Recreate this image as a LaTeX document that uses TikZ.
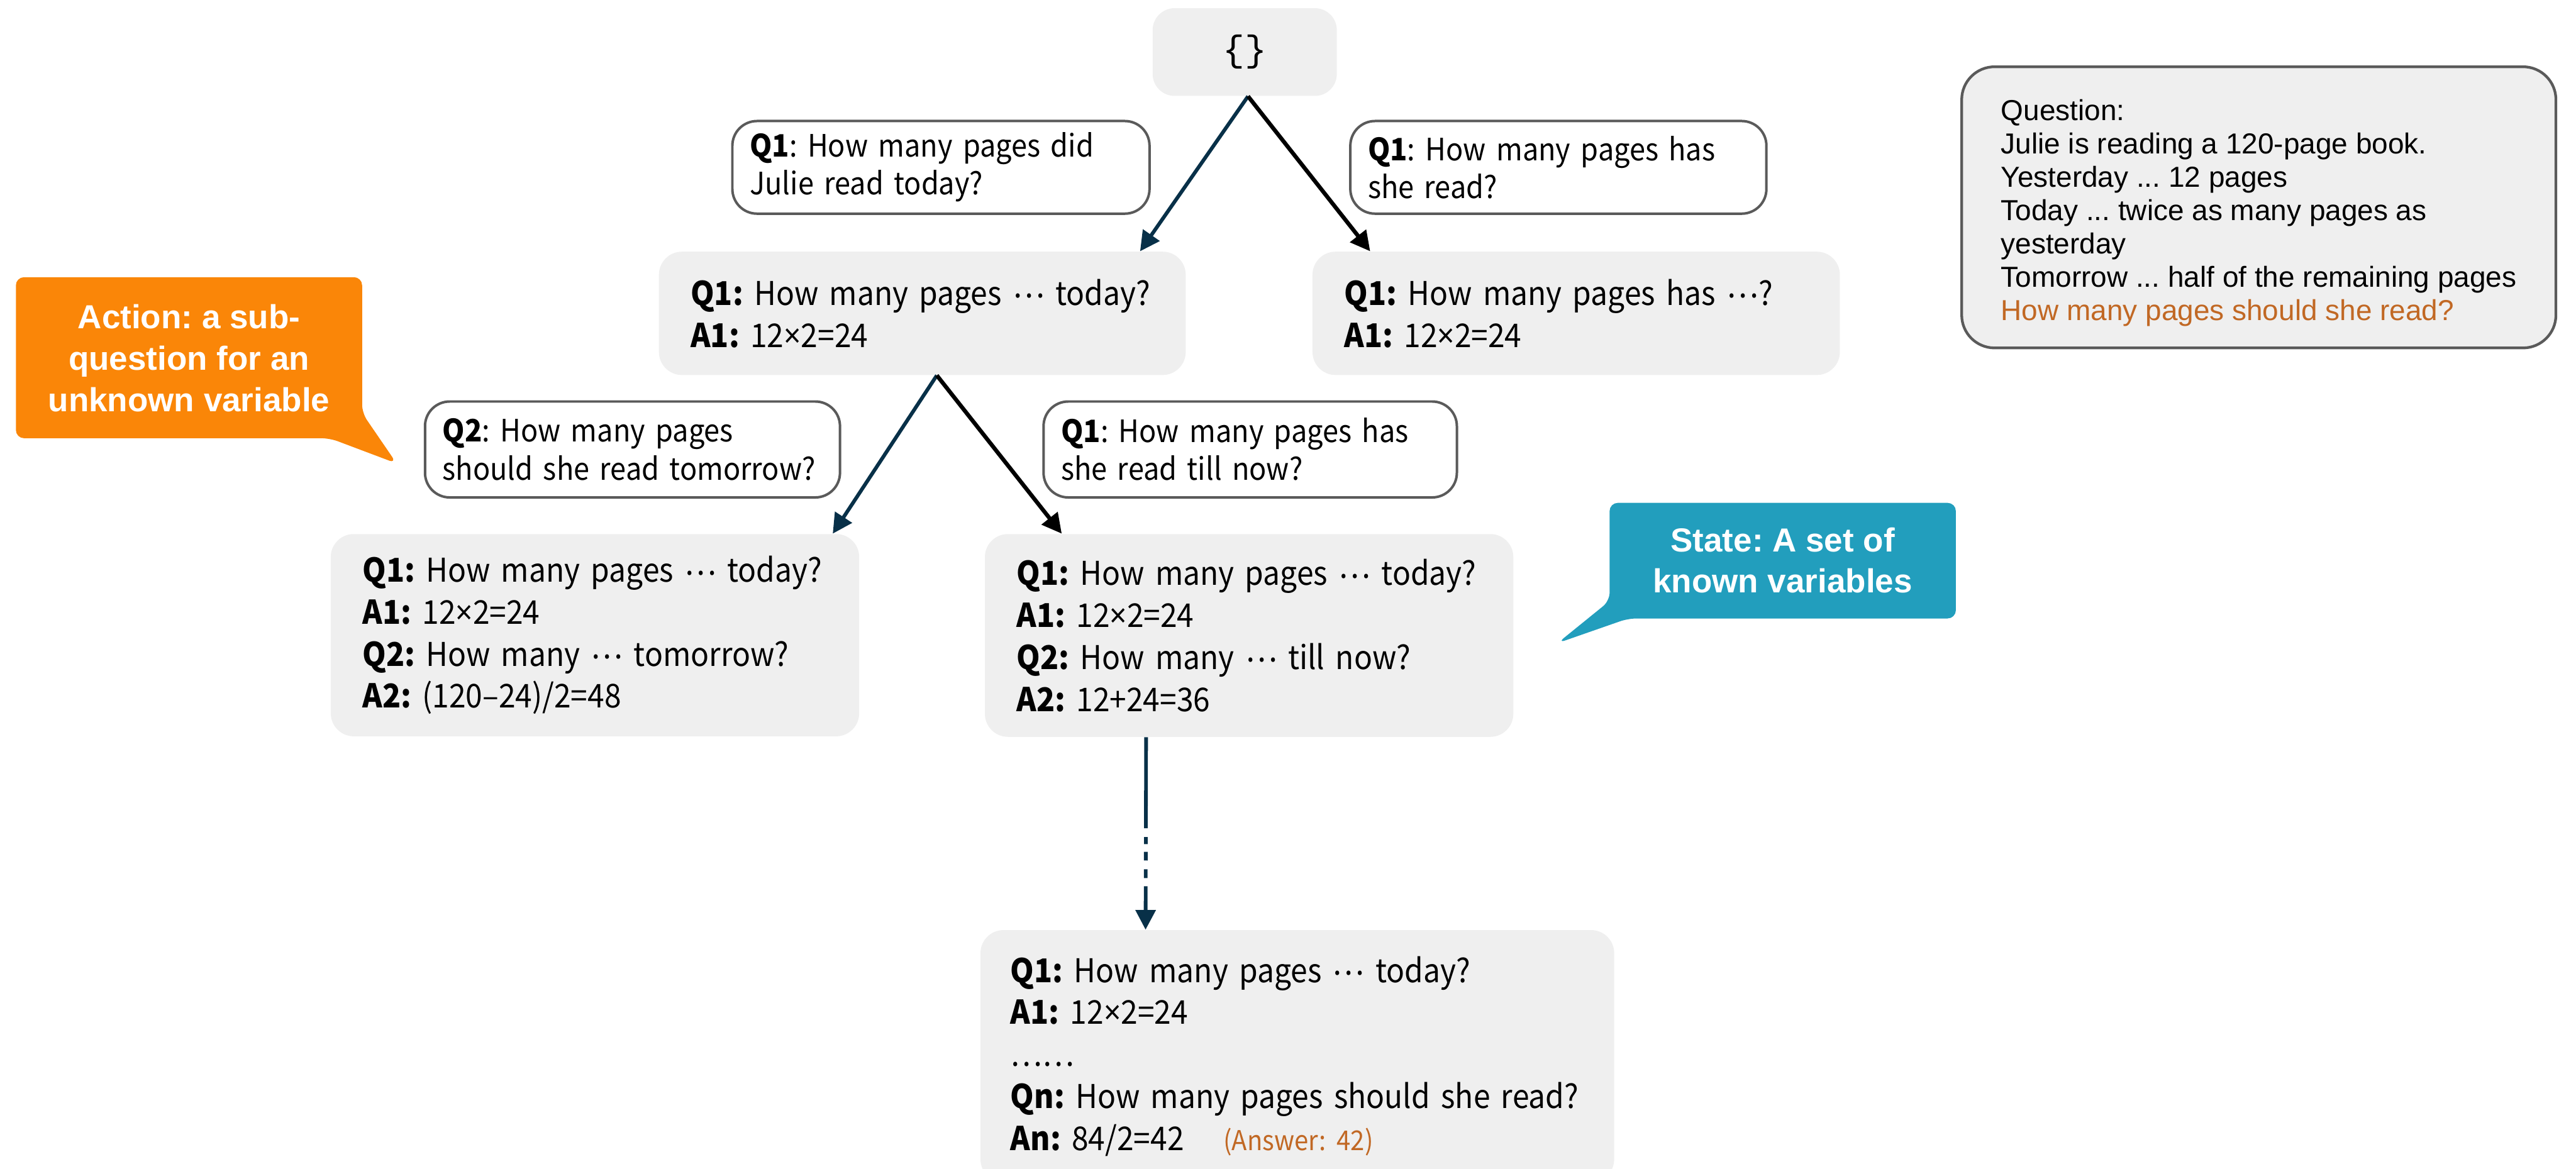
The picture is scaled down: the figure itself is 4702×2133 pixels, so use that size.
\documentclass[tikz,border=0pt]{standalone}
\usepackage{fontspec}
\setmainfont{Liberation Sans}
\newfontfamily\krfont[FakeStretch=0.92]{Noto Sans CJK KR}
\newfontfamily\timesfont[FakeStretch=0.92]{Noto Sans}
\newfontfamily\bracefont{Liberation Mono}
\usetikzlibrary{arrows.meta,calc}
\frenchspacing

\definecolor{boxgray}{RGB}{239,239,239}
\definecolor{edgegray}{RGB}{90,90,90}
\definecolor{navy}{RGB}{8,48,72}
\definecolor{calloutorange}{RGB}{250,134,8}
\definecolor{calloutteal}{RGB}{34,158,189}
\definecolor{answerbrown}{RGB}{193,104,36}

% narrow multiplication sign and centred ellipsis
\newcommand{\mul}{{\timesfont ×}}
\newcommand{\cdts}{\raisebox{0.22em}{…}}

\tikzset{
  statebox/.style={fill=boxgray, draw=none, rounded corners=0.42cm, align=left,
    inner xsep=0.58cm, inner ysep=0pt,
    font=\krfont\fontsize{17}{21.8}\selectfont},
  actlabel/.style={fill=white, draw=edgegray, line width=1.3pt, rounded corners=0.45cm,
    align=left, inner xsep=0.32cm, inner ysep=0pt,
    font=\krfont\fontsize{16}{19.6}\selectfont},
  questionbox/.style={fill=boxgray, draw=edgegray, line width=1.4pt, rounded corners=0.6cm,
    align=left, inner sep=0pt,
    font=\fontsize{15}{17.3}\selectfont},
  callouttext/.style={text=white, align=center, inner sep=0pt,
    font=\bfseries\fontsize{17.3}{21.5}\selectfont},
  navyedge/.style={draw=navy, line width=1.9pt, -{Triangle[length=0.36cm,width=0.36cm]}},
  blackedge/.style={draw=black, line width=2.1pt, -{Triangle[length=0.36cm,width=0.36cm]}},
}

\begin{document}
\begin{tikzpicture}[x=0.01cm, y=-0.01cm]
\clip (0,0) rectangle (4702,2133);

% root state
\node[statebox, align=center, rounded corners=0.4cm, minimum width=3.36cm, minimum height=1.6cm,
  font=\bracefont\fontsize{19}{22}\selectfont] (root) at (2272,95) {\{\}};

% first level states
\node[statebox, minimum width=9.61cm, minimum height=2.25cm, text width=8.45cm] (A) at (1683.5,572)
  {\textbf{Q1:} How many pages \cdts{} today?\\\textbf{A1:} 12\mul2=24};
\node[statebox, minimum width=9.62cm, minimum height=2.25cm, text width=8.46cm] (B) at (2877,572)
  {\textbf{Q1:} How many pages has \cdts?\\\textbf{A1:} 12\mul2=24};

% second level states
\node[statebox, minimum width=9.64cm, minimum height=3.69cm, text width=8.48cm] (C) at (1086,1159.5)
  {\textbf{Q1:} How many pages \cdts{} today?\\\textbf{A1:} 12\mul2=24\\\textbf{Q2:} How many \cdts{} tomorrow?\\\textbf{A2:} (120–24)/2=48};
\node[statebox, minimum width=9.64cm, minimum height=3.70cm, text width=8.48cm] (D) at (2280,1160)
  {\textbf{Q1:} How many pages \cdts{} today?\\\textbf{A1:} 12\mul2=24\\\textbf{Q2:} How many \cdts{} till now?\\\textbf{A2:} 12+24=36};

% final state
\node[statebox, inner xsep=0.55cm, minimum width=11.56cm, minimum height=4.6cm, text width=10.46cm] (E) at (2368,1928)
  {\textbf{Q1:} How many pages \cdts{} today?\\\textbf{A1:} 12\mul2=24\\……\\\textbf{Qn:} How many pages should she read?\\\textbf{An:} 84/2=42\hspace{0.72cm}{\color{answerbrown}\fontsize{14.2}{16}\selectfont(Answer: 42)}};

% sub-question labels
\node[actlabel, minimum width=7.61cm, minimum height=1.69cm, text width=6.97cm] (L1) at (1717.5,305.5)
  {\textbf{Q1}: How many pages did\\Julie read today?};
\node[actlabel, minimum width=7.59cm, minimum height=1.69cm, text width=6.95cm] (L2) at (2844.5,305.5)
  {\textbf{Q1}: How many pages has\\she read?};
\node[actlabel, minimum width=7.57cm, minimum height=1.75cm, text width=6.93cm] (L3) at (1154.5,820.5)
  {\textbf{Q2}: How many pages\\should she read tomorrow?};
\node[actlabel, minimum width=7.54cm, minimum height=1.75cm, text width=6.90cm] (L4) at (2282,820.5)
  {\textbf{Q1}: How many pages has\\she read till now?};

% problem statement (the strut in the first line lowers the text block)
\node[questionbox, minimum width=10.84cm, minimum height=5.13cm] (Q) at (4123,378.5)
  {\rule{0pt}{0.58cm}Question:\\Julie is reading a 120-page book.\\Yesterday ... 12 pages\\Today ... twice as many pages as\\yesterday\\Tomorrow ... half of the remaining pages\\{\color{answerbrown}How many pages should she read?}};

% callouts
\fill[calloutorange, rounded corners=0.15cm] (661,754) -- (661,506) -- (29,506) -- (29,800) -- (602,800) -- (724,846) -- cycle;
\node[callouttext] (action) at (345,654) {Action: a sub-\\question for an\\unknown variable};
\fill[calloutteal, rounded corners=0.15cm] (2938,1097) -- (2938,918) -- (3570,918) -- (3570,1129) -- (2972,1129) -- (2843,1174) -- cycle;
\node[callouttext, font=\bfseries\fontsize{17.3}{21}\selectfont] (state) at (3254,1023) {State: A set of\\known variables};

% transitions
\draw[navyedge] ($(root.south)+(6,0)$) -- ($(A.north)+(397.5,0)$);
\draw[blackedge] ($(root.south)+(6,0)$) -- ($(B.north)+(-376,0)$);
\draw[navyedge] ($(A.south)+(26.5,0)$) -- ($(C.north)+(434,0)$);
\draw[blackedge] ($(A.south)+(26.5,0)$) -- ($(D.north)+(-342,0)$);
\draw[navyedge, dash pattern=on 1.66cm off 0.16cm on 0.13cm off 0.14cm on 0.16cm off 0.16cm on 0.16cm off 0.15cm on 2cm off 0cm]
  ($(D.south)+(-188,0)$) -- ($(E.north)+(-277,0)$);
\end{tikzpicture}
\end{document}
